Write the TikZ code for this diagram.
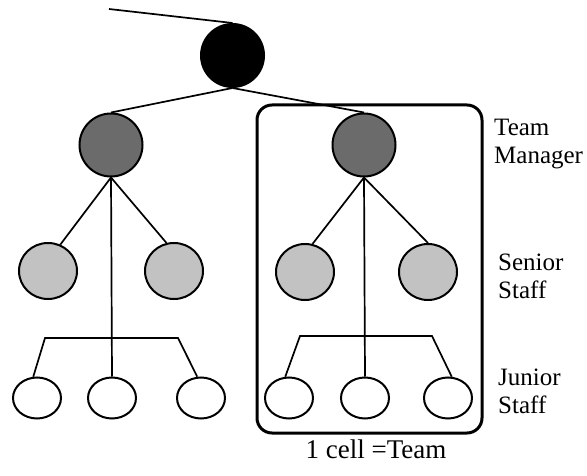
\documentclass[tikz,border=0pt]{standalone}
\usepackage{fontspec}
\setmainfont{Liberation Serif}
\usetikzlibrary{shapes.geometric}
\begin{document}
\begin{tikzpicture}[x=1pt,y=-1pt,
  member/.style={draw=black,line width=2pt,ellipse,inner sep=0pt},
  boss/.style={member,fill=black,minimum width=63pt,minimum height=63pt},
  manager/.style={member,fill=black!58,minimum width=63pt,minimum height=63pt},
  senior/.style={member,fill=black!24,minimum width=58pt,minimum height=56pt},
  junior/.style={member,fill=white,minimum width=48pt,minimum height=41pt},
  link/.style={line width=1.7pt},
  cell/.style={draw=black,line width=3pt,rounded corners=15pt},
  label/.style={font=\fontsize{25}{28}\selectfont,inner sep=0pt,align=left,anchor=north west}
]
\useasboundingbox (0,0) rectangle (587,476);

% the team cell frame
\draw[cell] (257,105) rectangle (482,433);

% top of the hierarchy
\coordinate (feed) at (109,9);
\node[boss] (top) at (232.5,55.5) {};

% left team
\node[manager] (mL) at (111,145) {};
\node[senior] (sLL) at (48,271) {};
\node[senior] (sLR) at (174,271) {};
\node[junior] (jLL) at (37,398) {};
\node[junior] (jLM) at (112,398) {};
\node[junior] (jLR) at (201,398) {};
\coordinate (bLa) at (45,338);
\coordinate (bLb) at (178,338);

% right team
\node[manager] (mR) at (364,145) {};
\node[senior] (sRL) at (305,272) {};
\node[senior] (sRR) at (428,272) {};
\node[junior] (jRL) at (289,398) {};
\node[junior] (jRM) at (365,398) {};
\node[junior] (jRR) at (448,398) {};
\coordinate (bRa) at (300,336);
\coordinate (bRb) at (432,336);

% connectors
\draw[link] (feed) -- (top.north);
\draw[link] (top.south) -- (mL.north);
\draw[link] (top.south) -- (mR.north);

\draw[link] (mL.south) -- (sLL.65);
\draw[link] (mL.south) -- (sLR.105);
\draw[link] (mL.south) -- (jLM.north);
\draw[link] (jLL.100) -- (bLa) -- (bLb) -- (jLR.100);

\draw[link] (mR.south) -- (sRL.75);
\draw[link] (mR.south) -- (sRR.north);
\draw[link] (mR.south) -- (jRM.north);
\draw[link] (jRL.100) -- (bRa) -- (bRb) -- (jRR.80);

% level labels
\node[label] (lMgr) at (494,119) {Team\\Manager};
\node[label] (lSen) at (498,254) {Senior\\Staff};
\node[label] (lJun) at (498,369) {Junior\\Staff};
\node[font=\fontsize{27}{28}\selectfont,inner sep=0pt,anchor=base] (lCell) at (376,458) {1 cell =Team};
\end{tikzpicture}
\end{document}
